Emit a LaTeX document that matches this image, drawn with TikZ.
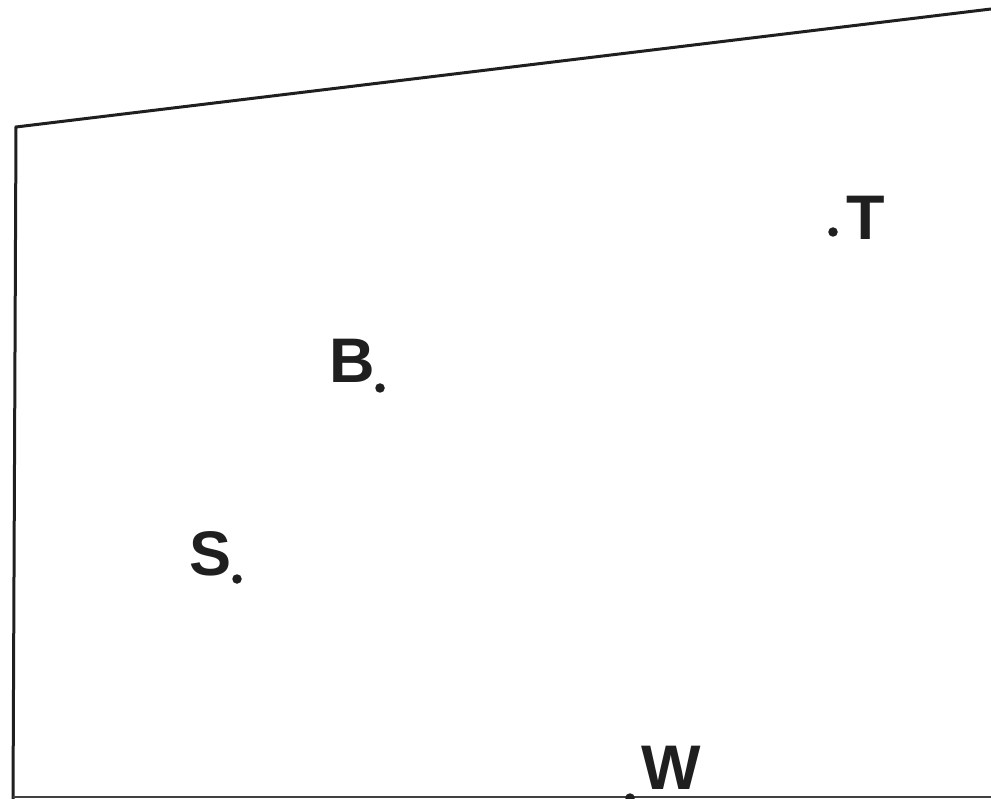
\documentclass[tikz,border=0pt]{standalone}
\usepackage{fontspec}
\setmainfont{Liberation Sans}
\begin{document}
\begin{tikzpicture}[x=1pt,y=-1pt,
  outline/.style={line width=3pt,color=black!88,line join=miter},
  baseline line/.style={line width=1.8pt,color=black!75},
  pt/.style={circle,fill=black!88,inner sep=0pt,minimum size=9.5pt},
  lbl/.style={anchor=base west,inner sep=0pt,font=\fontsize{63}{63}\selectfont\bfseries,text=black!88}]
\useasboundingbox (0,0) rectangle (991,799);
\draw[outline] (991,9) -- (16,127) -- (13,802);
\draw[baseline line] (13,797) -- (995,797);
\node[pt] (pT) at (833,232) {};
\node[pt] (pB) at (380,388) {};
\node[pt] (pS) at (237,579) {};
\node[pt] (pW) at (630,798) {};
\node[lbl] (lT) at (846,240) {T};
\node[lbl] (lB) at (329,383) {B};
\node[lbl] (lS) at (189,575) {S};
\node[lbl] (lW) at (641,789) {W};
\end{tikzpicture}
\end{document}
